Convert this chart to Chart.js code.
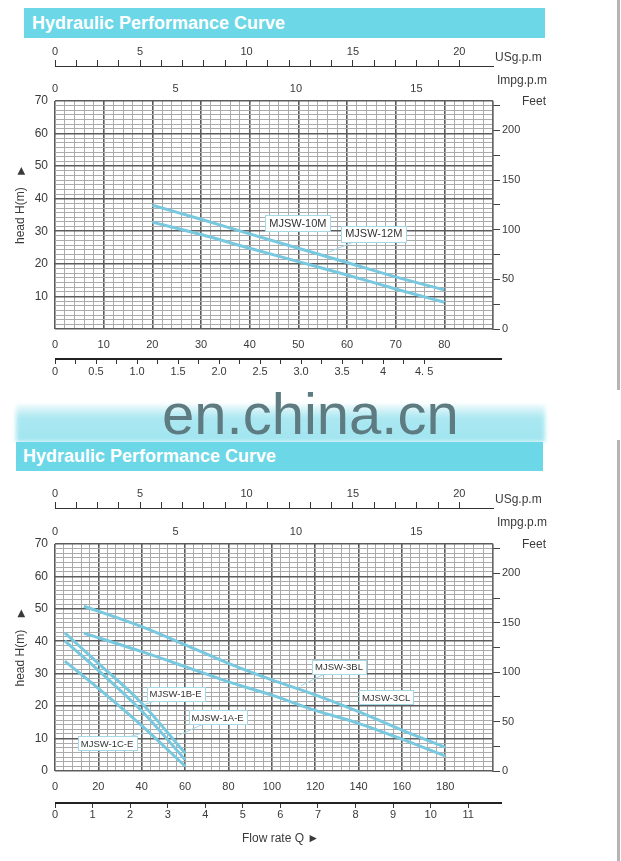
<!DOCTYPE html>
<html><head><meta charset="utf-8">
<script src="https://cdn.jsdelivr.net/npm/chart.js@4.4.1/dist/chart.umd.min.js"></script>
<style>
body{margin:0;background:#fff;}
#page{position:relative;width:621px;height:861px;overflow:hidden;background:#fff;font-family:"Liberation Sans",Arial,sans-serif;}
.bar{position:absolute;background:#6cd7e7;color:#fff;font-weight:bold;font-size:18px;box-sizing:border-box;white-space:nowrap;}
canvas{position:absolute;left:0;}
</style></head><body><div id="page">
<div class="bar" style="left:24px;top:8px;width:521px;height:30px;line-height:30px;padding-left:8px">Hydraulic Performance Curve</div>
<canvas id="c1" width="621" height="345" style="top:40px;width:621px;height:345px"></canvas>
<div style="position:absolute;left:16px;top:405px;width:529px;height:37px;background:linear-gradient(to bottom,rgba(150,226,238,0.2) 0%,rgba(150,226,238,0.8) 35%,rgba(150,226,238,0.9) 100%);filter:blur(2px)"></div>
<div style="position:absolute;left:162px;top:385px;font-size:58px;line-height:58px;color:#5d7b80;white-space:nowrap">en.china.cn</div>
<div class="bar" style="left:16px;top:442px;width:527px;height:29px;line-height:29px;padding-left:7px">Hydraulic Performance Curve</div>
<canvas id="c2" width="621" height="391" style="top:470px;width:621px;height:391px"></canvas>
<div style="position:absolute;left:617px;top:0;width:3px;height:390px;background:#b5b5b5"></div>
<div style="position:absolute;left:617px;top:440px;width:3px;height:421px;background:#b5b5b5"></div>
</div>
<script>
const FONT = '"Liberation Sans", Arial, sans-serif';

// ---------- shared axis labels ----------
// the printed US gpm scale starts its "0" on the first tick mark and counts 4 marks to "5"
const USGPM_TICK_VALUES = [1, 5, 10, 15, 20];
const USGPM_LABELS = ['0', '5', '10', '15', '20'];
const IMPGPM_LABELS = [0, 5, 10, 15];
const FEET_LABELS = [0, 50, 100, 150, 200];

// ---------- top chart (MJSW-10M / 12M) ----------
const TOP_FLOW_LMIN = [20, 30, 40, 50, 60, 70, 80];
const TOP_MJSW_12M = [38, 33.7, 29.2, 24.8, 20.4, 16, 12];
const TOP_MJSW_10M = [32.8, 29, 24.8, 20.7, 16.6, 12.3, 8.2];
const TOP_LMIN_LABELS = [0, 10, 20, 30, 40, 50, 60, 70, 80];
const TOP_M3H_VALUES = [0, 0.5, 1, 1.5, 2, 2.5, 3, 3.5, 4, 4.5];
const TOP_M3H_LABELS = ['0', '0.5', '1.0', '1.5', '2.0', '2.5', '3.0', '3.5', '4', '4. 5'];
const TOP_H_LABELS = [10, 20, 30, 40, 50, 60, 70];

// ---------- bottom chart (MJSW-1x-E / 3xL) ----------
const E_FLOW_LMIN = [4.5, 20, 40, 60];
const MJSW_1B_E = [42.6, 33.2, 20.9, 5.5];
const MJSW_1A_E = [40.1, 31, 18.5, 3.5];
const MJSW_1C_E = [33.9, 25.5, 14, 1.5];
const L_FLOW_LMIN = [13.3, 40, 60, 80, 100, 120, 140, 160, 180];
const MJSW_3BL = [50.8, 44.5, 38.9, 33.2, 28.1, 23.5, 18.3, 12.6, 7.3];
const MJSW_3CL = [42.5, 36.8, 32.2, 27.5, 23.4, 18.7, 14.7, 9.8, 4.6];
const BOT_LMIN_LABELS = [0, 20, 40, 60, 80, 100, 120, 140, 160, 180];
const BOT_M3H_VALUES = [0, 1, 2, 3, 4, 5, 6, 7, 8, 9, 10, 11];
const BOT_M3H_LABELS = ['0', '1', '2', '3', '4', '5', '6', '7', '8', '9', '10', '11'];
const BOT_H_LABELS = [0, 10, 20, 30, 40, 50, 60, 70];

// ---------- helpers ----------
function range(a, b, step) {
  const out = []; const n = Math.round((b - a) / step);
  for (let i = 0; i <= n; i++) out.push(+(a + i * step).toFixed(6));
  return out;
}
const near = (a, b) => Math.abs(a - b) < 1e-4;
const isMul = (v, m) => near(v / m, Math.round(v / m));
function labelFrom(values, texts) {
  return v => { const i = values.findIndex(t => near(t, v)); return i < 0 ? '' : (texts ? texts[i] : String(values[i])); };
}
function gridStyle(major) {
  return {
    drawTicks: false,
    color: c => (c.tick && isMul(c.tick.value, major)) ? '#5c5c5c' : '#ababab',
    lineWidth: c => (c.tick && isMul(c.tick.value, major)) ? 1.6 : 1
  };
}
const tickFont = {family: FONT, size: 11};
const TXT = '#3a3a3a';
const LINE = '#78c9e0';

function extrasPlugin(P) {
  return {
    id: 'extras_' + P.id,
    afterDraw(chart) {
      const c = chart.ctx, a = chart.chartArea, S = chart.scales;
      c.save();
      // thick m3/h axis line
      c.strokeStyle = '#222'; c.lineWidth = 2.2;
      c.beginPath(); c.moveTo(S.q.left, S.q.top + 1); c.lineTo(S.q.right + 9, S.q.top + 1); c.stroke();
      // unit labels
      c.fillStyle = TXT; c.font = '12px ' + FONT; c.textBaseline = 'middle'; c.textAlign = 'left';
      c.fillText('USg.p.m', a.right + 2, S.us.bottom - 8.5);
      c.fillText('Impg.p.m', a.right + 4, S.us.bottom + 15);
      c.fillText('Feet', a.right + 29, a.top + 1);
      // y title: "head H(m)" with an arrow head
      c.save(); c.translate(20.5, (a.top + a.bottom) / 2 - 11); c.rotate(-Math.PI / 2);
      const t = 'head H(m)', tw = c.measureText(t).width;
      const x0 = -40;
      c.textAlign = 'left'; c.fillText(t, x0, 0);
      c.font = '13px ' + FONT; c.fillText('\u25BA', x0 + tw + 10, 0.5);
      c.restore();
      c.font = '12px ' + FONT;
      if (P.flowTitle) { c.textAlign = 'left'; c.fillText(P.flowTitle, 242, a.bottom + 67.5); }
      // curve labels
      c.font = P.boxFont + 'px ' + FONT;
      P.notes.forEach(n => {
        const px = S.x.getPixelForValue(n.x), py = S.y.getPixelForValue(n.y);
        if (n.lx !== undefined) {
          c.strokeStyle = '#9fd5e5'; c.lineWidth = 1;
          c.beginPath(); c.moveTo(px, py); c.lineTo(S.x.getPixelForValue(n.lx), S.y.getPixelForValue(n.ly)); c.stroke();
        }
        const w = Math.round(c.measureText(n.text).width + 2 * P.boxPad), h = P.boxH;
        const bx = Math.round(px - w / 2) + 0.5, by = Math.round(py - h / 2) + 0.5;
        c.fillStyle = '#fff'; c.fillRect(bx, by, w, h);
        c.strokeStyle = '#a6d9e8'; c.lineWidth = 1; c.strokeRect(bx, by, w, h);
        c.fillStyle = '#333'; c.textAlign = 'center'; c.textBaseline = 'middle';
        c.fillText(n.text, px, py + 0.5);
      });
      c.restore();
    }
  };
}

function build(id, P) {
  return new Chart(document.getElementById(id), {
    type: 'line',
    data: {
      datasets: P.series.map(s => ({
        label: s.name, data: s.x.map((x, i) => ({x: x, y: s.y[i]})),
        borderColor: LINE, borderWidth: 3, pointRadius: 0, fill: false,
        cubicInterpolationMode: 'monotone', xAxisID: 'x', yAxisID: 'y'
      }))
    },
    options: {
      responsive: false, animation: false, events: [],
      layout: {padding: {top: P.padTop, bottom: P.padBottom, left: 0, right: 0}},
      plugins: {legend: {display: false}, tooltip: {enabled: false}},
      scales: {
        x: {type: 'linear', position: 'bottom', weight: 0, min: 0, max: P.xMax,
          afterBuildTicks: s => { s.ticks = P.xGrid.map(v => ({value: v})); },
          afterFit: s => { s.height = P.xH; },
          ticks: {autoSkip: false, maxRotation: 0, padding: 9, color: TXT, font: tickFont, callback: labelFrom(P.xLabels)},
          grid: gridStyle(P.xMajor), border: {display: false}},
        q: {type: 'linear', position: 'bottom', weight: 1, min: 0, max: P.qMax,
          afterBuildTicks: s => { s.ticks = range(0, P.qTickMax, P.qMinor).map(v => ({value: v})); },
          afterFit: s => { s.height = P.qH; },
          ticks: {autoSkip: false, maxRotation: 0, padding: P.qPad, color: TXT, font: tickFont, callback: labelFrom(P.qValues, P.qLabels)},
          grid: {drawOnChartArea: false, drawTicks: true, tickLength: 6, color: '#333', lineWidth: 1},
          border: {display: false}},
        us: {type: 'linear', position: 'top', weight: 2, min: 1, max: 21.58,
          afterBuildTicks: s => { s.ticks = range(1, 20, 1).map(v => ({value: v})); },
          afterFit: s => { s.height = 26; },
          ticks: {autoSkip: false, maxRotation: 0, padding: 1, color: TXT, font: tickFont, callback: labelFrom(USGPM_TICK_VALUES, USGPM_LABELS)},
          grid: {drawOnChartArea: false, drawTicks: true, tickLength: 6, color: '#333', lineWidth: 1},
          border: {display: true, color: '#333', width: 1}},
        imp: {type: 'linear', position: 'top', weight: 1, min: 0, max: 18.18,
          afterBuildTicks: s => { s.ticks = IMPGPM_LABELS.map(v => ({value: v})); },
          afterFit: s => { s.height = P.impH; },
          ticks: {autoSkip: false, maxRotation: 0, padding: 5, color: TXT, font: tickFont, callback: labelFrom(IMPGPM_LABELS)},
          grid: {display: false, drawTicks: false}, border: {display: false}},
        y: {type: 'linear', position: 'left', min: 0, max: 70,
          afterBuildTicks: s => { s.ticks = range(0, 70, 10 / 7).map(v => ({value: v})); },
          afterFit: s => { s.width = 55; },
          ticks: {autoSkip: false, padding: 7, color: TXT, font: {family: FONT, size: 12}, callback: labelFrom(P.hLabels)},
          grid: gridStyle(10), border: {display: false}},
        ft: {type: 'linear', position: 'right', min: 0, max: 70 * 3.28084,
          afterBuildTicks: s => { s.ticks = range(0, 225, 25).map(v => ({value: v})); },
          afterFit: s => { s.width = 128; },
          ticks: {autoSkip: false, padding: 2, color: TXT, font: tickFont, callback: labelFrom(FEET_LABELS)},
          grid: {drawOnChartArea: false, drawTicks: true, tickLength: 7, color: '#444', lineWidth: 1},
          border: {display: true, color: '#666', width: 1.2}}
      }
    },
    plugins: [extrasPlugin(P)]
  });
}

build('c1', {
  id: 'top', padTop: 0, padBottom: 0,
  xMax: 90, xGrid: range(0, 90, 2), xMajor: 10, xH: 29, xLabels: TOP_LMIN_LABELS,
  qMax: 5.34, qTickMax: 4.5, qMinor: 0.25, qH: 27, qPad: 1, qValues: TOP_M3H_VALUES, qLabels: TOP_M3H_LABELS,
  impH: 35, hLabels: TOP_H_LABELS,
  boxFont: 11, boxPad: 4, boxH: 16,
  series: [
    {name: 'MJSW-12M', x: TOP_FLOW_LMIN, y: TOP_MJSW_12M},
    {name: 'MJSW-10M', x: TOP_FLOW_LMIN, y: TOP_MJSW_10M}
  ],
  notes: [
    {text: 'MJSW-10M', x: 49.9, y: 32.5},
    {text: 'MJSW-12M', x: 65.5, y: 29.2, lx: 56.2, ly: 23.6}
  ]
});

build('c2', {
  id: 'bot', padTop: 12, padBottom: 29,
  xMax: 202, xGrid: range(0, 180, 4).concat(range(0, 5, 1).slice(1).map(k => 180 + k * 22 / 5)), xMajor: 20, xH: 31, xLabels: BOT_LMIN_LABELS,
  qMax: 11.66, qTickMax: 11, qMinor: 1, qH: 30, qPad: 0, qValues: BOT_M3H_VALUES, qLabels: BOT_M3H_LABELS,
  impH: 36, hLabels: BOT_H_LABELS,
  flowTitle: 'Flow rate Q \u25BA',
  boxFont: 9.5, boxPad: 3, boxH: 14,
  series: [
    {name: 'MJSW-3BL', x: L_FLOW_LMIN, y: MJSW_3BL},
    {name: 'MJSW-3CL', x: L_FLOW_LMIN, y: MJSW_3CL},
    {name: 'MJSW-1B-E', x: E_FLOW_LMIN, y: MJSW_1B_E},
    {name: 'MJSW-1A-E', x: E_FLOW_LMIN, y: MJSW_1A_E},
    {name: 'MJSW-1C-E', x: E_FLOW_LMIN, y: MJSW_1C_E}
  ],
  notes: [
    {text: 'MJSW-1B-E', x: 55.6, y: 23.7, lx: 40.7, ly: 20.4},
    {text: 'MJSW-1A-E', x: 75.0, y: 16.5, lx: 57, ly: 11},
    {text: 'MJSW-1C-E', x: 24.0, y: 8.5, lx: 40.7, ly: 11.8},
    {text: 'MJSW-3BL', x: 131.0, y: 32.2, lx: 113.5, ly: 26.3},
    {text: 'MJSW-3CL', x: 152.7, y: 22.7}
  ]
});
</script>
</body></html>
